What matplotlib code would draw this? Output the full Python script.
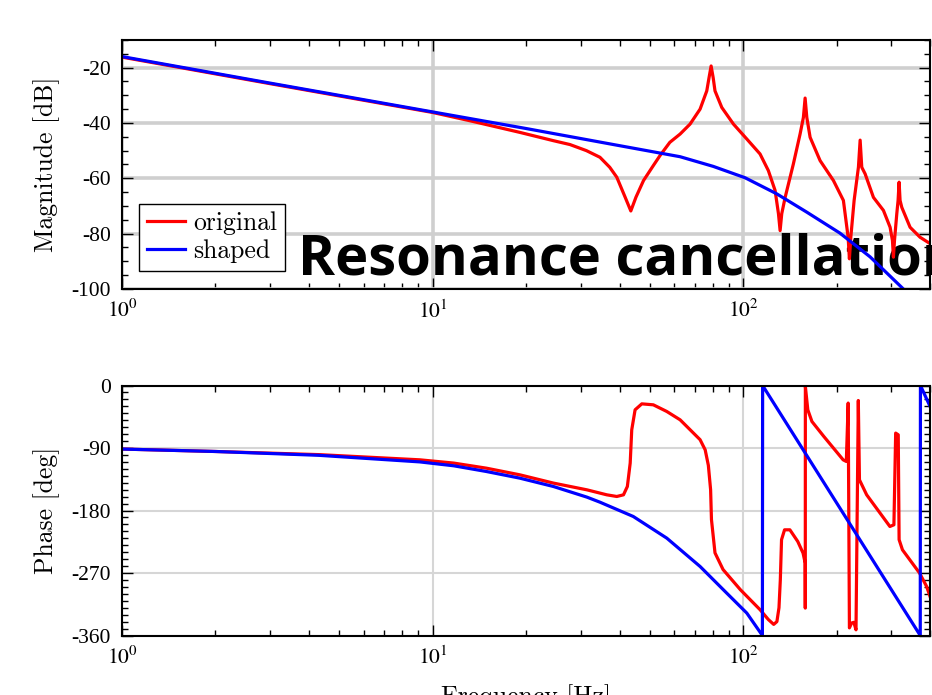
import numpy as np
import matplotlib
matplotlib.use("Agg")
import matplotlib.pyplot as plt
from matplotlib.ticker import FixedLocator, LogLocator, MultipleLocator, NullFormatter

plt.rcParams['font.family'] = 'serif'
plt.rcParams['font.serif'] = ['Liberation Serif', 'DejaVu Serif']
plt.rcParams['mathtext.fontset'] = 'stix'
plt.rcParams['axes.unicode_minus'] = False

# magnitude, original plant [Hz, dB]
f_mag_orig = [1, 3, 10, 13.2, 19.1, 24.5, 27.7, 31.3, 34.6, 37.2, 39.2, 41.7, 43.5,
              45.2, 47.8, 51.4, 54, 58.1, 62.7, 67.5, 72.7, 76.4, 77.7, 78.9, 80.1,
              81.2, 85.4, 93.1, 102.8, 113.4, 120.6, 126.8, 130, 131.6, 133.2, 136.6,
              145.2, 152.6, 156.4, 158.4, 160.4, 164.4, 177, 195.4, 210.4, 217.9, 220,
              222.3, 227.8, 235.2, 238.2, 241.1, 247.2, 262.9, 283.1, 297.5, 302.7,
              304.9, 307.3, 312.6, 315.6, 318, 320.3, 324.4, 345, 371.5, 400]
mag_orig = [-16.2, -25.8, -36.2, -39.2, -43.4, -46.4, -47.8, -50, -52.4, -56, -59.6,
            -66.8, -71.8, -66.8, -60.8, -55.4, -51.8, -47, -44, -40.4, -35, -28.4,
            -23.6, -19.4, -23.6, -28.4, -34.4, -40.4, -45.8, -51.2, -57.2, -64.4,
            -72.8, -78.9, -72.8, -66.9, -54.8, -44, -38, -31, -38, -45.2, -53.6, -60.8,
            -68, -81.3, -89.1, -81.3, -68, -56, -46.2, -56, -58.4, -66.9, -71.6,
            -77.7, -82.5, -88.5, -82.5, -72.8, -68, -61.4, -68, -70.5, -77.7, -81.3,
            -83.6]

# magnitude, shaped plant
f_mag_shaped = [1, 3, 10, 20, 40, 62.7, 80.2, 101.5, 128.3, 160.2, 205, 256.5, 326.8,
                400]
mag_shaped = [-16, -25.6, -36, -42, -48.2, -52.2, -55.7, -59.8, -65.6, -72.2, -79.8,
              -88.4, -99.8, -110]

# phase, original plant [Hz, deg]
f_ph_orig = [1, 2, 4.3, 9.1, 11.7, 14.9, 19.1, 24.5, 31.4, 36.4, 39.2, 41.2, 42.4,
             43.3, 43.8, 44.9, 47.2, 51.4, 56.8, 62.7, 72.7, 75.5, 77.3, 78.6, 79.1,
             81.2, 86.2, 98, 113.5, 120.6, 125.5, 128.5, 130.5, 131.8, 133, 136, 141.5,
             150, 156, 158.5, 158.6, 158.7, 161.6, 166.6, 182, 210, 215, 218, 220,
             223.6, 227.4, 231, 235, 237, 250, 297, 306, 310, 316, 318, 326, 370, 390,
             400]
ph_orig = [-91.5, -95, -99.5, -107, -111.7, -119, -128.6, -140.5, -150.2, -157.4,
           -159.8, -157.4, -145.4, -111.7, -63.8, -35, -26.4, -27.8, -37.4, -49.4,
           -78, -92.6, -115, -150, -193, -241, -265, -294, -323, -337, -344, -340,
           -320, -280, -222, -207.8, -207.8, -224.6, -241.3, -255.7, -320.5,
           -1.4, -35, -51.8, -73.4, -107, -109.4, -25.3, -349, -342, -341, -351.8,
           -21.6, -135.8, -157.4, -203, -200.6, -68.5, -71, -222, -236.6, -270,
           -289.4, -303.8]

# phase, shaped plant
f_ph_shaped = [1, 2, 4.3, 9.1, 11.7, 14.9, 19.1, 24.5, 31.4, 34.6, 44.3, 56.8, 72.7,
               88.6, 102.8, 115.4, 115.6, 372, 372.5, 400]
ph_shaped = [-91.5, -95, -100.5, -110, -115.6, -123.8, -133.4, -145.4, -160.7, -168,
             -188.6, -219.8, -260.6, -299, -327.7, -360, 0, -360, 0, -30]

x_ticks = [1, 10, 100]
x_tick_labels = [r'$10^{0}$', r'$10^{1}$', r'$10^{2}$']
mag_ticks = [-100, -80, -60, -40, -20]
ph_ticks = [-360, -270, -180, -90, 0]

fig = plt.figure(figsize=(9.32, 6.95), dpi=100)
ax1 = fig.add_axes([0.1309, 0.5842, 0.867, 0.3583])
ax2 = fig.add_axes([0.1309, 0.0856, 0.867, 0.3597])

ax1.semilogx(f_mag_orig, mag_orig, color='red', lw=2.3, label='original')
ax1.semilogx(f_mag_shaped, mag_shaped, color='blue', lw=2.3, label='shaped')
ax2.semilogx(f_ph_orig, ph_orig, color='red', lw=2.3)
ax2.semilogx(f_ph_shaped, ph_shaped, color='blue', lw=2.3)

ax1.set_ylim(-100, -10)
ax2.set_ylim(-360, 0)
ax1.yaxis.set_major_locator(FixedLocator(mag_ticks))
ax1.yaxis.set_minor_locator(MultipleLocator(5))
ax1.set_yticklabels([str(t) for t in mag_ticks])
ax2.yaxis.set_major_locator(FixedLocator(ph_ticks))
ax2.yaxis.set_minor_locator(MultipleLocator(10))
ax2.set_yticklabels([str(t) for t in ph_ticks])

for ax, glw, gcol in [(ax1, 2.6, '#cfcfcf'), (ax2, 1.5, '#d6d6d6')]:
    ax.set_xlim(1, 400)
    ax.set_xticks(x_ticks)
    ax.set_xticklabels(x_tick_labels)
    ax.xaxis.set_minor_locator(LogLocator(base=10, subs=np.arange(2, 10)))
    ax.xaxis.set_minor_formatter(NullFormatter())
    ax.set_axisbelow(True)
    ax.grid(True, which='major', color=gcol, lw=glw)
    ax.tick_params(which='both', direction='in', top=True, right=True, width=1.0)
    ax.tick_params(which='major', length=8, labelsize=15.5, pad=8)
    ax.tick_params(which='minor', length=4.5)
    for s in ax.spines.values():
        s.set_linewidth(1.5)

ax1.set_ylabel('Magnitude [dB]', family='cmr10', size=18.5)
ax1.yaxis.set_label_coords(-0.0767, 0.5)
ax2.set_ylabel('Phase [deg]', family='cmr10', size=18.5)
ax2.yaxis.set_label_coords(-0.0767, 0.5)
ax2.set_xlabel('Frequency [Hz]', family='cmr10', size=18.5)
ax2.xaxis.set_label_coords(0.5, -0.194)

leg = ax1.legend(loc='lower left', bbox_to_anchor=(0.021, 0.0735), borderaxespad=0,
                 prop={'family': 'cmr10', 'size': 18.5}, fancybox=False,
                 edgecolor='black', framealpha=1, handlelength=1.5,
                 handletextpad=0.3, borderpad=0.3, labelspacing=0.15)
leg.get_frame().set_linewidth(1.0)
leg.set_zorder(5)

ax1.text(0.2178, 0.0562, 'Resonance cancellation', transform=ax1.transAxes,
         family='Open Sans', fontweight='bold', fontsize=40.5, va='baseline',
         zorder=1.5)

fig.savefig('out.png', dpi=100)
